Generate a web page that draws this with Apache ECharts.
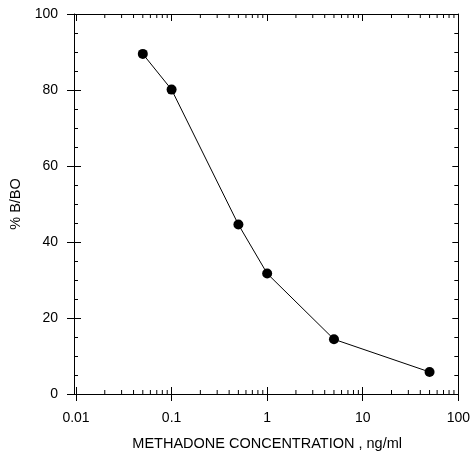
<!DOCTYPE html>
<html>
<head>
<meta charset="utf-8">
<script src="https://cdn.jsdelivr.net/npm/echarts@6/dist/echarts.min.js"></script>
<style>
  html, body { margin: 0; padding: 0; background: #fff; }
  #chart { width: 473px; height: 456px; }
</style>
</head>
<body>
<div id="chart"></div>
<script>
// 读图得到的数据
const concentrations = [0.05, 0.1, 0.5, 1, 5, 50]
const bboValues = [89.5, 80.1, 44.6, 31.7, 14.4, 5.8]

// 对数轴的次刻度 (2..9 x 10^k)
const minorTicks = []
for (const base of [0.01, 0.1, 1, 10]) {
  for (let m = 2; m <= 9; m++) minorTicks.push(+(base * m).toPrecision(3))
}

const font = 'Liberation Sans, Arial, sans-serif'
const black = '#000'

const chart = echarts.init(document.getElementById('chart'))

const lineOn = { show: true, onZero: false, lineStyle: { color: black, width: 1 } }
const lineOff = { show: false, onZero: false }

const logAxisBase = {
  type: 'log',
  logBase: 10,
  min: 0.01,
  max: 100,
  splitLine: { show: false },
  minorTick: { show: false }
}

const valueAxisBase = {
  type: 'value',
  min: 0,
  max: 100,
  interval: 20,
  splitLine: { show: false }
}

const option = {
  animation: false,
  grid: { left: 76, right: 14, top: 14, bottom: 60 },
  xAxis: [
    {
      ...logAxisBase,
      position: 'bottom',
      axisLine: lineOn,
      axisTick: { show: true, inside: true, length: 7, lineStyle: { color: black } },
      axisLabel: { color: black, fontFamily: font, fontSize: 14, margin: 17 },
      name: 'METHADONE CONCENTRATION , ng/ml',
      nameLocation: 'middle',
      nameGap: 42,
      nameTextStyle: { color: black, fontFamily: font, fontSize: 14.5 }
    },
    {
      ...logAxisBase,
      position: 'bottom',
      axisLine: lineOff,
      axisTick: { show: true, inside: false, length: 7, lineStyle: { color: black } },
      axisLabel: { show: false }
    },
    {
      ...logAxisBase,
      position: 'top',
      axisLine: lineOn,
      axisTick: { show: true, inside: true, length: 7, lineStyle: { color: black } },
      axisLabel: { show: false }
    }
  ],
  yAxis: [
    {
      ...valueAxisBase,
      position: 'left',
      offset: 2,
      axisLine: lineOn,
      axisTick: { show: true, inside: true, length: 7, lineStyle: { color: black } },
      minorTick: { show: true, splitNumber: 4, length: 4, lineStyle: { color: black } },
      axisLabel: { color: black, fontFamily: font, fontSize: 14, margin: 16 },
      name: '% B/BO',
      nameLocation: 'middle',
      nameGap: 50,
      nameTextStyle: { color: black, fontFamily: font, fontSize: 14.5 }
    },
    {
      ...valueAxisBase,
      position: 'left',
      offset: 2,
      axisLine: lineOff,
      axisTick: { show: true, inside: false, length: 7, lineStyle: { color: black } },
      axisLabel: { show: false }
    },
    {
      ...valueAxisBase,
      position: 'right',
      axisLine: lineOn,
      axisTick: { show: true, inside: true, length: 6, lineStyle: { color: black } },
      minorTick: { show: true, splitNumber: 4, length: 4, lineStyle: { color: black } },
      axisLabel: { show: false }
    }
  ],
  series: [
    {
      type: 'line',
      xAxisIndex: 0,
      yAxisIndex: 0,
      data: concentrations.map((c, i) => [c, bboValues[i]]),
      symbol: 'circle',
      symbolSize: 10,
      itemStyle: { color: black },
      lineStyle: { color: black, width: 1 },
      z: 5
    },
    {
      // 对数轴次刻度（上下两条边）
      type: 'custom',
      xAxisIndex: 0,
      yAxisIndex: 0,
      silent: true,
      clip: false,
      data: minorTicks.map(v => [v]),
      renderItem: (params, api) => {
        const bottom = api.coord([api.value(0), 0])
        const top = api.coord([api.value(0), 100])
        const style = { stroke: black, lineWidth: 1 }
        return {
          type: 'group',
          children: [
            { type: 'line', shape: { x1: bottom[0], y1: bottom[1], x2: bottom[0], y2: bottom[1] - 4 }, style },
            { type: 'line', shape: { x1: top[0], y1: top[1], x2: top[0], y2: top[1] + 4 }, style }
          ]
        }
      }
    }
  ]
}

chart.setOption(option)
</script>
</body>
</html>
